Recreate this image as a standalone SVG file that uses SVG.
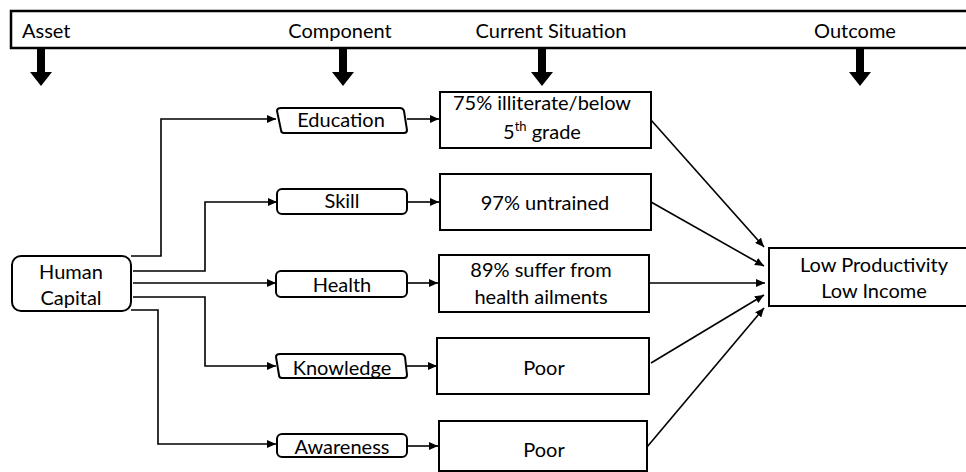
<svg xmlns="http://www.w3.org/2000/svg" width="966" height="472" viewBox="0 0 966 472">
<style>
text{font-family:Lato,"Open Sans","Liberation Sans",sans-serif;font-size:20px;fill:#000}
.box{fill:#fff;stroke:#000;stroke-width:2}
.c{text-anchor:middle}
.conn path{fill:none;stroke:#000;stroke-width:1.6}
.big{fill:#000}
</style>
<defs>
<marker id="ah" markerUnits="userSpaceOnUse" markerWidth="9" markerHeight="8" refX="9" refY="4" orient="auto">
<path d="M0,0 L9,4 L0,8 z" fill="#000"/>
</marker>
</defs>
<rect width="966" height="472" fill="#fff"/>
<g id="header">
<rect x="11" y="11" width="970" height="37" fill="#fff" stroke="#000" stroke-width="2.5"/>
<text x="22" y="38">Asset</text>
<text class="c" x="340" y="38">Component</text>
<text class="c" x="551" y="38">Current Situation</text>
<text class="c" x="855" y="38">Outcome</text>
<polygon class="big" points="37,48 45,48 45,72 52,72 41,86 30,72 37,72"/>
<polygon class="big" points="339,48 347,48 347,72 354,72 343,86 332,72 339,72"/>
<polygon class="big" points="538,48 546,48 546,72 553,72 542,86 531,72 538,72"/>
<polygon class="big" points="856,48 864,48 864,72 871,72 860,86 849,72 856,72"/>
</g>
<g class="conn" id="connectors">
<path d="M131,256 H161 V119 H276" marker-end="url(#ah)"/>
<path d="M133,271 H205 V202 H277" marker-end="url(#ah)"/>
<path d="M133,283 H276" marker-end="url(#ah)"/>
<path d="M133,297 H205 V366 H276" marker-end="url(#ah)"/>
<path d="M131,310 H158 V444 H276" marker-end="url(#ah)"/>
<path d="M407,119 H439" marker-end="url(#ah)"/>
<path d="M407,202 H439" marker-end="url(#ah)"/>
<path d="M407,283 H438" marker-end="url(#ah)"/>
<path d="M407,366 H437" marker-end="url(#ah)"/>
<path d="M407,446 H438" marker-end="url(#ah)"/>
<path d="M651,120 L764,247" marker-end="url(#ah)"/>
<path d="M651,202 L764,266" marker-end="url(#ah)"/>
<path d="M649,283 L765,283" marker-end="url(#ah)"/>
<path d="M651,363 L764,295" marker-end="url(#ah)"/>
<path d="M647,447 L764,308" marker-end="url(#ah)"/>
</g>
<g id="human-capital">
<rect class="box" x="12" y="256" width="119" height="55" rx="9"/>
<text class="c" x="71" y="279">Human</text>
<text class="c" x="71" y="305">Capital</text>
</g>
<g id="education">
<path class="box" d="M281,108 H400 Q403,108 404,111 L407,130 Q407,133 404,133 H284 Q281,133 281,130 L277,111 Q277,108 281,108 Z"/>
<text class="c" x="341" y="127">Education</text>
</g>
<g id="skill">
<rect class="box" x="277" y="189" width="130" height="25" rx="5"/>
<text class="c" x="342" y="208">Skill</text>
</g>
<g id="health">
<rect class="box" x="276" y="271" width="131" height="26" rx="5"/>
<text class="c" x="342" y="292">Health</text>
</g>
<g id="knowledge">
<path class="box" d="M280,354 H401 Q404,354 405,357 L407,375 Q407,378 404,378 H282 Q279,378 279,375 L276,357 Q276,354 280,354 Z"/>
<text class="c" x="342" y="375">Knowledge</text>
</g>
<g id="awareness">
<rect class="box" x="277" y="434" width="130" height="23" rx="5"/>
<text class="c" x="342" y="454">Awareness</text>
</g>
<g id="sit-education">
<rect class="box" x="440" y="92" width="211" height="56"/>
<text class="c" x="542" y="110">75% illiterate/below</text>
<text class="c" x="542" y="139">5<tspan font-size="13" dy="-8">th</tspan><tspan dy="8"> grade</tspan></text>
</g>
<g id="sit-skill">
<rect class="box" x="440" y="174" width="211" height="56"/>
<text class="c" x="545" y="210">97% untrained</text>
</g>
<g id="sit-health">
<rect class="box" x="439" y="255" width="210" height="57"/>
<text class="c" x="541" y="277">89% suffer from</text>
<text class="c" x="541" y="304">health ailments</text>
</g>
<g id="sit-knowledge">
<rect class="box" x="437" y="338" width="212" height="56"/>
<text class="c" x="544" y="375">Poor</text>
</g>
<g id="sit-awareness">
<rect class="box" x="439" y="421" width="208" height="50"/>
<text class="c" x="544" y="457">Poor</text>
</g>
<g id="outcome">
<rect class="box" x="769" y="248" width="210" height="58"/>
<text class="c" x="874" y="272">Low Productivity</text>
<text class="c" x="874" y="298">Low Income</text>
</g>
</svg>
